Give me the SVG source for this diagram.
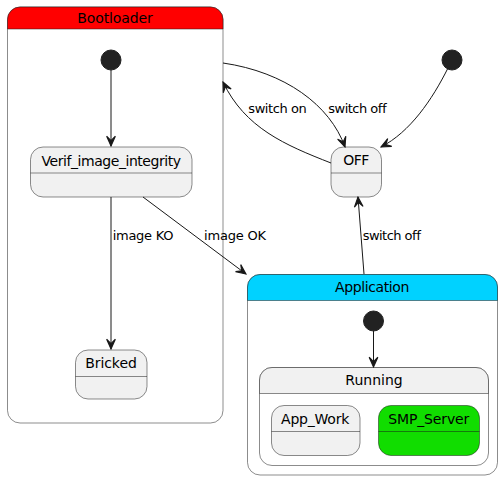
<svg xmlns="http://www.w3.org/2000/svg" width="503" height="480" viewBox="0 0 503 480">
<style>
.st{fill:#F1F1F1;stroke:#181818;stroke-width:0.5}
.ln{fill:none;stroke:#181818;stroke-width:0.5}
.t{font-family:"DejaVu Sans",sans-serif;font-size:14px;fill:#000;text-anchor:middle}
.l{font-family:"DejaVu Sans",sans-serif;font-size:13px;fill:#000}
.c{fill:none;stroke:#181818;stroke-width:1}
.ini{fill:#222222;stroke:#222222}
</style>
<defs>
<marker id="ah" markerUnits="userSpaceOnUse" markerWidth="12" markerHeight="12" viewBox="-10 -5 11 10" refX="0" refY="0" orient="auto">
<path d="M0,0 L-9,-4 L-5,0 L-9,4 Z" fill="#181818" stroke="#181818" stroke-width="1"/>
</marker>
</defs>
<rect width="503" height="480" fill="#FFFFFF"/>

<g id="Bootloader">
<rect x="7.5" y="7" width="215.5" height="416" rx="12.5" fill="#FFFFFF" stroke="#181818" stroke-width="0.5"/>
<path d="M7.5,29 V19.5 A12.5,12.5 0 0 1 20,7 H210.5 A12.5,12.5 0 0 1 223,19.5 V29 Z" fill="#FF0000" stroke="#181818" stroke-width="0.5"/>
<text class="t" x="115" y="23" textLength="75.5" lengthAdjust="spacing">Bootloader</text>
</g>
<g id="boot_init"><circle class="ini" cx="111" cy="60" r="10"/></g>
<g id="Verif_image_integrity">
<rect class="st" x="30.5" y="147" width="161.5" height="50" rx="12.5"/>
<line class="ln" x1="30.5" y1="173" x2="192" y2="173"/>
<text class="t" x="111.3" y="166" textLength="139.5" lengthAdjust="spacing">Verif_image_integrity</text>
</g>
<g id="Bricked">
<rect class="st" x="75.5" y="350" width="71.5" height="49" rx="12.5"/>
<line class="ln" x1="75.5" y1="376.5" x2="147" y2="376.5"/>
<text class="t" x="111" y="368" textLength="51.7" lengthAdjust="spacing">Bricked</text>
</g>

<g id="top_init"><circle class="ini" cx="452" cy="60" r="10"/></g>
<g id="OFF">
<rect class="st" x="331" y="147" width="50.5" height="50" rx="12.5"/>
<line class="ln" x1="331" y1="173" x2="381.5" y2="173"/>
<text class="t" x="356.3" y="165" textLength="26" lengthAdjust="spacing">OFF</text>
</g>

<g id="Application">
<rect x="247.5" y="274.5" width="250" height="200.5" rx="12.5" fill="#FFFFFF" stroke="#181818" stroke-width="0.5"/>
<path d="M247.5,300.5 V287 A12.5,12.5 0 0 1 260,274.5 H485 A12.5,12.5 0 0 1 497.5,287 V300.5 Z" fill="#00D2FF" stroke="#181818" stroke-width="0.5"/>
<text class="t" x="372.2" y="292" textLength="74.3" lengthAdjust="spacing">Application</text>
</g>
<g id="app_init"><circle class="ini" cx="373.5" cy="321" r="10"/></g>
<g id="Running">
<rect x="259.5" y="367.5" width="229" height="98" rx="12.5" fill="#FFFFFF" stroke="#181818" stroke-width="0.5"/>
<path d="M259.5,393.5 V380 A12.5,12.5 0 0 1 272,367.5 H476 A12.5,12.5 0 0 1 488.5,380 V393.5 Z" fill="#F1F1F1" stroke="#181818" stroke-width="0.5"/>
<text class="t" x="374" y="385" textLength="57.3" lengthAdjust="spacing">Running</text>
</g>
<g id="App_Work">
<rect class="st" x="271.5" y="405.5" width="88.5" height="50" rx="12.5"/>
<line class="ln" x1="271.5" y1="431.5" x2="360" y2="431.5"/>
<text class="t" x="315.2" y="424" textLength="68.3" lengthAdjust="spacing">App_Work</text>
</g>
<g id="SMP_Server">
<rect x="378.5" y="405.5" width="101" height="50" rx="12.5" fill="#11DD00" stroke="#181818" stroke-width="0.5"/>
<line class="ln" x1="378.5" y1="431.5" x2="479.5" y2="431.5"/>
<text class="t" x="428.8" y="424" textLength="81" lengthAdjust="spacing">SMP_Server</text>
</g>

<g id="connectors">
<path class="c" d="M111,70 L111,146" marker-end="url(#ah)"/>
<path class="c" d="M111,197 L111,349" marker-end="url(#ah)"/>
<path class="c" d="M143,197 L246,274" marker-end="url(#ah)"/>
<path class="c" d="M223,63 C285,72 330,105 345,147" marker-end="url(#ah)"/>
<path class="c" d="M331,163 C285,145 245,128 223,82" marker-end="url(#ah)"/>
<path class="c" d="M448,68 C432,100 410,132 381,147" marker-end="url(#ah)"/>
<path class="c" d="M364,274 L358,197" marker-end="url(#ah)"/>
<path class="c" d="M373.5,331 L373.5,367" marker-end="url(#ah)"/>
<text class="l" x="112.7" y="240" textLength="60.7" lengthAdjust="spacing">image KO</text>
<text class="l" x="204" y="240" textLength="62" lengthAdjust="spacing">image OK</text>
<text class="l" x="248.3" y="113" textLength="58.4" lengthAdjust="spacing">switch on</text>
<text class="l" x="328.3" y="113" textLength="58.3" lengthAdjust="spacing">switch off</text>
<text class="l" x="362.7" y="240" textLength="58.3" lengthAdjust="spacing">switch off</text>
</g>
</svg>
